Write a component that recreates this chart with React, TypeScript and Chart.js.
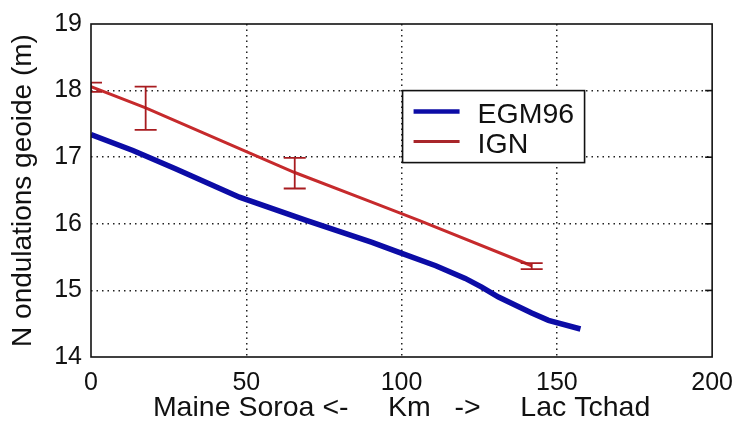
import React, { useEffect, useRef } from "react";
import { Chart, registerables } from "chart.js";

Chart.register(...registerables);

// ---- data ----
const seriesNames = ["EGM96", "IGN"];

const egmX = [0, 13.5, 27, 47.8, 69.3, 90.5, 99.2, 111, 120.5, 125.8, 131.2, 141.9, 147.3, 157.6];
const egmY = [17.34, 17.1, 16.83, 16.4, 16.05, 15.72, 15.57, 15.37, 15.18, 15.05, 14.9, 14.66, 14.55, 14.42];

const ignX = [0, 17.6, 47.8, 65.6, 90.2, 105.6, 141.9];
const ignY = [18.06, 17.74, 17.13, 16.77, 16.33, 16.05, 15.37];

const errX = [0, 17.6, 65.6, 141.9];
const errLo = [17.98, 17.41, 16.53, 15.32];
const errHi = [18.12, 18.06, 16.99, 15.41];

const xTicks = [0, 50, 100, 150, 200];
const yTicks = [14, 15, 16, 17, 18, 19];

const xTitle = "Maine Soroa <-     Km   ->     Lac Tchad";
const yTitle = "N ondulations geoide (m)";

const FONT = "'Liberation Sans', Arial, Helvetica, sans-serif";
const BLUE = "#0c0ca6";
const RED = "#c62a2c";
const RED_BAR = "#a81c20";

export default function App() {
  const ref = useRef<HTMLCanvasElement | null>(null);

  useEffect(() => {
    document.body.style.margin = "0";
    const canvas = ref.current;
    if (!canvas) return;

    const errorBars = {
      id: "errorBars",
      afterDatasetsDraw(chart: any) {
        const { ctx, chartArea, scales } = chart;
        const xs = scales.x;
        const ys = scales.y;
        ctx.save();
        ctx.beginPath();
        ctx.rect(chartArea.left, chartArea.top, chartArea.right - chartArea.left, chartArea.bottom - chartArea.top);
        ctx.clip();
        ctx.strokeStyle = RED_BAR;
        ctx.lineWidth = 1.8;
        const hw = 11;
        errX.forEach((xv, i) => {
          const px = xs.getPixelForValue(xv);
          const pLo = ys.getPixelForValue(errLo[i]);
          const pHi = ys.getPixelForValue(errHi[i]);
          ctx.beginPath();
          ctx.moveTo(px, pLo);
          ctx.lineTo(px, pHi);
          ctx.moveTo(px - hw, pLo);
          ctx.lineTo(px + hw, pLo);
          ctx.moveTo(px - hw, pHi);
          ctx.lineTo(px + hw, pHi);
          ctx.stroke();
        });
        ctx.restore();
      },
    };

    const frameAndLegend = {
      id: "frameAndLegend",
      afterDraw(chart: any) {
        const { ctx, chartArea, scales } = chart;
        const xs = scales.x;
        const ys = scales.y;
        ctx.save();
        // frame
        ctx.strokeStyle = "#111";
        ctx.lineWidth = 1.6;
        ctx.strokeRect(chartArea.left, chartArea.top, chartArea.right - chartArea.left, chartArea.bottom - chartArea.top);
        // inward ticks on right side
        yTicks.slice(1, -1).forEach((v) => {
          const py = ys.getPixelForValue(v);
          ctx.beginPath();
          ctx.moveTo(chartArea.right - 7, py);
          ctx.lineTo(chartArea.right, py);
          ctx.stroke();
        });
        // legend
        const left = xs.getPixelForValue(100) + 1;
        const top = ys.getPixelForValue(18);
        const w = 182;
        const h = 72;
        ctx.fillStyle = "#fff";
        ctx.fillRect(left, top, w, h);
        ctx.strokeStyle = "#111";
        ctx.lineWidth = 1.6;
        ctx.strokeRect(left, top, w, h);
        const colors = [BLUE, "#a8262a"];
        const widths = [4.5, 3];
        const rows = [21, 51];
        ctx.font = `28.5px ${FONT}`;
        ctx.textBaseline = "alphabetic";
        ctx.textAlign = "left";
        seriesNames.forEach((name, i) => {
          ctx.strokeStyle = colors[i];
          ctx.lineWidth = widths[i];
          ctx.beginPath();
          ctx.moveTo(left + 11, top + rows[i]);
          ctx.lineTo(left + 57, top + rows[i]);
          ctx.stroke();
          ctx.fillStyle = "#111";
          ctx.fillText(name, left + 75, top + rows[i] + 11);
        });
        ctx.restore();
      },
    };

    const gridColor = (ctx: any) => {
      const v = ctx.tick ? ctx.tick.value : null;
      const s = ctx.scale;
      if (v === s.min || v === s.max) return "rgba(0,0,0,0)";
      return "#222";
    };

    const chart = new Chart(canvas, {
      type: "line",
      data: {
        datasets: [
          {
            label: seriesNames[0],
            data: egmX.map((x, i) => ({ x, y: egmY[i] })),
            borderColor: BLUE,
            borderWidth: 5.5,
            pointRadius: 0,
            tension: 0,
            fill: false,
          },
          {
            label: seriesNames[1],
            data: ignX.map((x, i) => ({ x, y: ignY[i] })),
            borderColor: RED,
            borderWidth: 3,
            pointRadius: 0,
            tension: 0,
            fill: false,
          },
        ],
      },
      options: {
        animation: false,
        responsive: false,
        devicePixelRatio: 1,
        layout: { padding: { top: 23, right: 30, left: 0, bottom: 0 } },
        plugins: { legend: { display: false }, tooltip: { enabled: false } },
        scales: {
          x: {
            type: "linear",
            min: 0,
            max: 200,
            afterBuildTicks: (s: any) => {
              s.ticks = xTicks.map((v) => ({ value: v }));
            },
            afterFit: (s: any) => {
              s.height = 66;
            },
            ticks: {
              color: "#111",
              font: { family: FONT, size: 25 },
              padding: 11,
              maxRotation: 0,
              autoSkip: false,
            },
            grid: { color: gridColor, lineWidth: 1.5, drawTicks: false },
            border: { display: false, dash: [1.5, 4] },
            title: {
              display: true,
              text: xTitle,
              color: "#111",
              font: { family: FONT, size: 28.5 },
              padding: { top: 0, bottom: -2 },
            },
          },
          y: {
            type: "linear",
            min: 14,
            max: 19,
            afterBuildTicks: (s: any) => {
              s.ticks = yTicks.map((v) => ({ value: v }));
            },
            afterFit: (s: any) => {
              s.width = 91;
            },
            ticks: {
              color: "#111",
              font: { family: FONT, size: 25 },
              padding: 9,
              autoSkip: false,
            },
            grid: { color: gridColor, lineWidth: 1.5, drawTicks: false },
            border: { display: false, dash: [1.5, 4] },
            title: {
              display: true,
              text: yTitle,
              color: "#111",
              font: { family: FONT, size: 28 },
              padding: { top: 6, bottom: 0 },
            },
          },
        },
      },
      plugins: [errorBars, frameAndLegend],
    } as any);

    return () => chart.destroy();
  }, []);

  return (
    <div style={{ width: 744, height: 423, background: "#fff" }}>
      <canvas ref={ref} width={744} height={423} style={{ display: "block" }} />
    </div>
  );
}
